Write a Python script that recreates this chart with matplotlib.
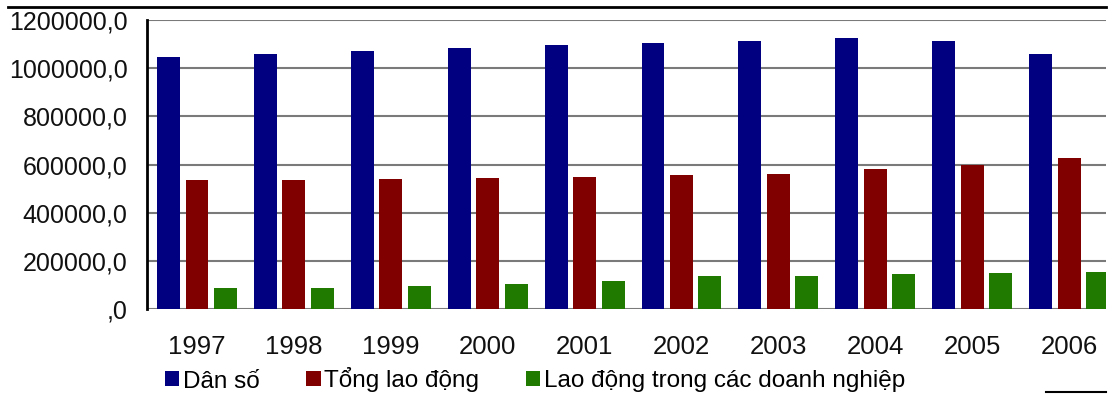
import matplotlib.pyplot as plt
from matplotlib.lines import Line2D
from matplotlib.patches import Patch
import numpy as np

plt.rcParams['font.family'] = ['Liberation Sans', 'DejaVu Sans']

years = ['1997', '1998', '1999', '2000', '2001', '2002', '2003', '2004', '2005', '2006']
dan_so = [1047000, 1058000, 1072000, 1083000, 1096000, 1104000, 1112000, 1124000, 1112000, 1058000]
tong_ld = [537000, 537000, 541000, 544000, 548000, 557000, 562000, 582000, 600000, 626000]
ld_dn = [89000, 89000, 96000, 102000, 118000, 136000, 139000, 146000, 151000, 155000]
series_names = ['Dân số', 'Tổng lao động', 'Lao động trong các doanh nghiệp']
yticks = [0, 200000, 400000, 600000, 800000, 1000000, 1200000]
ytick_labels = [',0', '200000,0', '400000,0', '600000,0', '800000,0', '1000000,0', '1200000,0']

colors = ['#000080', '#800000', '#217A00']


def main():
    fig = plt.figure(figsize=(11.12, 3.96), dpi=100)
    ax = fig.add_axes([147/1112, 1 - 309/396, 959/1112, 289/396])

    x = np.arange(len(years))
    w = 0.237
    step = 0.294
    for i, (vals, c) in enumerate(zip([dan_so, tong_ld, ld_dn], colors)):
        ax.bar(x + (i - 1) * step, vals, width=w, color=c, zorder=3)

    # chart is cropped on the right, last green bar is cut off
    ax.set_xlim(-0.516, 9.381)
    ax.set_ylim(0, 1200000)
    ax.set_yticks(yticks)
    ax.set_yticklabels(ytick_labels)
    ax.set_xticks(x)
    ax.set_xticklabels(years)
    ax.tick_params(axis='both', length=0, colors='#111111')
    ax.tick_params(axis='y', pad=14, labelsize=18)
    ax.tick_params(axis='x', pad=19, labelsize=18.5)
    ax.grid(axis='y', color='#7a7a7a', linewidth=1.5, zorder=0)
    for s in ['top', 'right', 'bottom']:
        ax.spines[s].set_visible(False)
    ax.spines['left'].set_linewidth(2)
    ax.spines['left'].set_color('black')

    handles = [Patch(facecolor=c) for c in colors]
    fig.legend(handles, series_names, loc='center left',
               bbox_to_anchor=(165/1112, 1 - 380/396), ncol=3, frameon=False,
               fontsize=17.5, handlelength=0.58, handleheight=0.58,
               handletextpad=0.15, columnspacing=1.93, borderpad=0,
               borderaxespad=0)

    # border remnants
    fig.add_artist(Line2D([8/1112, 1106/1112], [1 - 7/396, 1 - 7/396],
                          color='black', linewidth=2))
    fig.add_artist(Line2D([1046/1112, 1106/1112], [1 - 392/396, 1 - 392/396],
                          color='black', linewidth=1.5))

    fig.savefig('out.png', dpi=100)


if __name__ == "__main__":
    main()
